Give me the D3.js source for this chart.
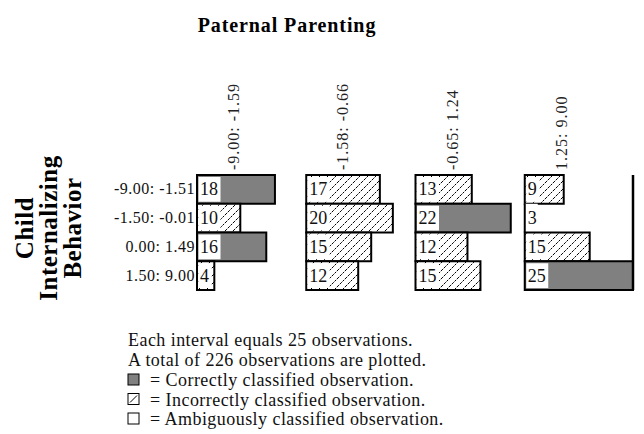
<!DOCTYPE html>
<html>
<head>
<meta charset="utf-8">
<style>
  body { margin: 0; background: #fff; }
  svg text { font-family: "Liberation Serif", "DejaVu Serif", serif; }
</style>
<script src="https://cdnjs.cloudflare.com/ajax/libs/d3/7.8.5/d3.min.js"></script>
</head>
<body>
<div id="chart"></div>
<script>
// Paternal parenting intervals (columns) and child internalizing intervals (rows)
const colLabels = ["-9.00: -1.59", "-1.58: -0.66", "-0.65: 1.24", "1.25: 9.00"];
const rowLabels = ["-9.00: -1.51", "-1.50: -0.01", "0.00: 1.49", "1.50: 9.00"];
// counts per column, top row first
const counts = [
  [18, 10, 16, 4],
  [17, 20, 15, 12],
  [13, 22, 12, 15],
  [9, 3, 15, 25]
];
// C = correct, I = incorrect, A = ambiguous
const classes = [
  ["C", "I", "C", "I"],
  ["I", "I", "I", "I"],
  ["I", "C", "I", "I"],
  ["I", "A", "I", "C"]
];
const legendNotes = ["Each interval equals 25 observations.", "A total of 226 observations are plotted."];
const legendItems = [
  ["C", "= Correctly classified observation."],
  ["I", "= Incorrectly classified observation."],
  ["A", "= Ambiguously classified observation."]
];

const w = 644, h = 434;
const svg = d3.select("#chart").append("svg").attr("width", w).attr("height", h);

const defs = svg.append("defs");
const pat = defs.append("pattern")
  .attr("id", "hatch").attr("patternUnits", "userSpaceOnUse")
  .attr("width", 8).attr("height", 8);
pat.append("rect").attr("width", 8).attr("height", 8).attr("fill", "#fff");
pat.append("path").attr("d", "M-2,10 L10,-2 M-2,2 L2,-2 M6,10 L10,6")
  .attr("stroke", "#000").attr("stroke-width", 1).attr("stroke-dasharray", "3,1");

const fillFor = c => c === "C" ? "#808080" : c === "I" ? "url(#hatch)" : "#fff";

const colScale = d3.scaleBand().domain(colLabels).range([197, 634]);
const rowScale = d3.scaleBand().domain(rowLabels).range([175, 290]);
const xObs = d3.scaleLinear().domain([0, 25]).range([0, colScale.bandwidth() - 1]);

// title
svg.append("text").attr("x", 287).attr("y", 32).attr("text-anchor", "middle")
  .attr("font-size", 20).attr("font-weight", "bold").attr("letter-spacing", 0.9)
  .text("Paternal Parenting");

// y title, three rotated lines
const yTitle = ["Child", "Internalizing", "Behavior"];
yTitle.forEach((t, i) => {
  svg.append("text")
    .attr("transform", `translate(${33 + i * 24},228) rotate(-90)`)
    .attr("text-anchor", "middle").attr("font-size", 25).attr("font-weight", "bold")
    .attr("letter-spacing", 0.5)
    .text(t);
});

// row labels
svg.selectAll(".rowlab").data(rowLabels).join("text")
  .attr("class", "rowlab")
  .attr("x", 195).attr("y", d => rowScale(d) + rowScale.bandwidth() / 2 + 5)
  .attr("text-anchor", "end").attr("font-size", 16).attr("letter-spacing", 0.5)
  .attr("fill", "#111").text(d => d);

// column labels
svg.selectAll(".collab").data(colLabels).join("text")
  .attr("class", "collab")
  .attr("transform", d => `translate(${colScale(d) + 42},170) rotate(-90)`)
  .attr("font-size", 16).attr("letter-spacing", 1).attr("fill", "#222").text(d => d);

// cells
const cells = [];
colLabels.forEach((c, ci) => rowLabels.forEach((r, ri) => {
  cells.push({col: c, row: r, n: counts[ci][ri], cls: classes[ci][ri]});
}));

const g = svg.append("g");
g.selectAll("rect.bar").data(cells).join("rect")
  .attr("class", "bar")
  .attr("x", d => colScale(d.col))
  .attr("y", d => rowScale(d.row))
  .attr("width", d => xObs(d.n))
  .attr("height", rowScale.bandwidth())
  .attr("fill", d => fillFor(d.cls))
  .attr("stroke", d => d.cls === "A" ? "none" : "#000")
  .attr("stroke-width", 2);

const labs = g.selectAll("g.lab").data(cells).join("g").attr("class", "lab");
labs.append("rect")
  .attr("x", d => colScale(d.col) + 1.5)
  .attr("y", d => rowScale(d.row) + 2)
  .attr("width", d => d.n >= 10 ? 22 : 13)
  .attr("height", rowScale.bandwidth() - 4)
  .attr("fill", "#fff");
labs.append("text")
  .attr("x", d => colScale(d.col) + 3)
  .attr("y", d => rowScale(d.row) + rowScale.bandwidth() / 2 + 6)
  .attr("font-size", 18).attr("fill", "#111").text(d => d.n);

// left edge for ambiguous bar and frame line on the right
g.selectAll("line.aedge").data(cells.filter(d => d.cls === "A")).join("line")
  .attr("class", "aedge")
  .attr("x1", d => colScale(d.col)).attr("x2", d => colScale(d.col))
  .attr("y1", d => rowScale(d.row)).attr("y2", d => rowScale(d.row) + rowScale.bandwidth())
  .attr("stroke", "#000").attr("stroke-width", 2);
svg.append("line")
  .attr("x1", colScale(colLabels[3]) + xObs(25)).attr("x2", colScale(colLabels[3]) + xObs(25))
  .attr("y1", rowScale.range()[0]).attr("y2", rowScale.range()[1])
  .attr("stroke", "#000").attr("stroke-width", 2.5);

// legend
legendNotes.forEach((t, i) => {
  svg.append("text").attr("x", 128).attr("y", 346 + i * 20)
    .attr("font-size", 18).attr("letter-spacing", 0.45).attr("fill", "#111").text(t);
});
legendItems.forEach((it, i) => {
  const y = 386 + i * 19.5;
  svg.append("rect").attr("x", 128).attr("y", y - 12).attr("width", 11).attr("height", 11)
    .attr("fill", fillFor(it[0]) === "url(#hatch)" ? "#fff" : fillFor(it[0]))
    .attr("stroke", "#000").attr("stroke-width", 1);
  if (it[0] === "I") {
    svg.append("line").attr("x1", 130).attr("y1", y - 3).attr("x2", 137).attr("y2", y - 10)
      .attr("stroke", "#000").attr("stroke-width", 1);
  }
  svg.append("text").attr("x", 150).attr("y", y)
    .attr("font-size", 18).attr("letter-spacing", 0.45).attr("fill", "#111").text(it[1]);
});
</script>
</body>
</html>
